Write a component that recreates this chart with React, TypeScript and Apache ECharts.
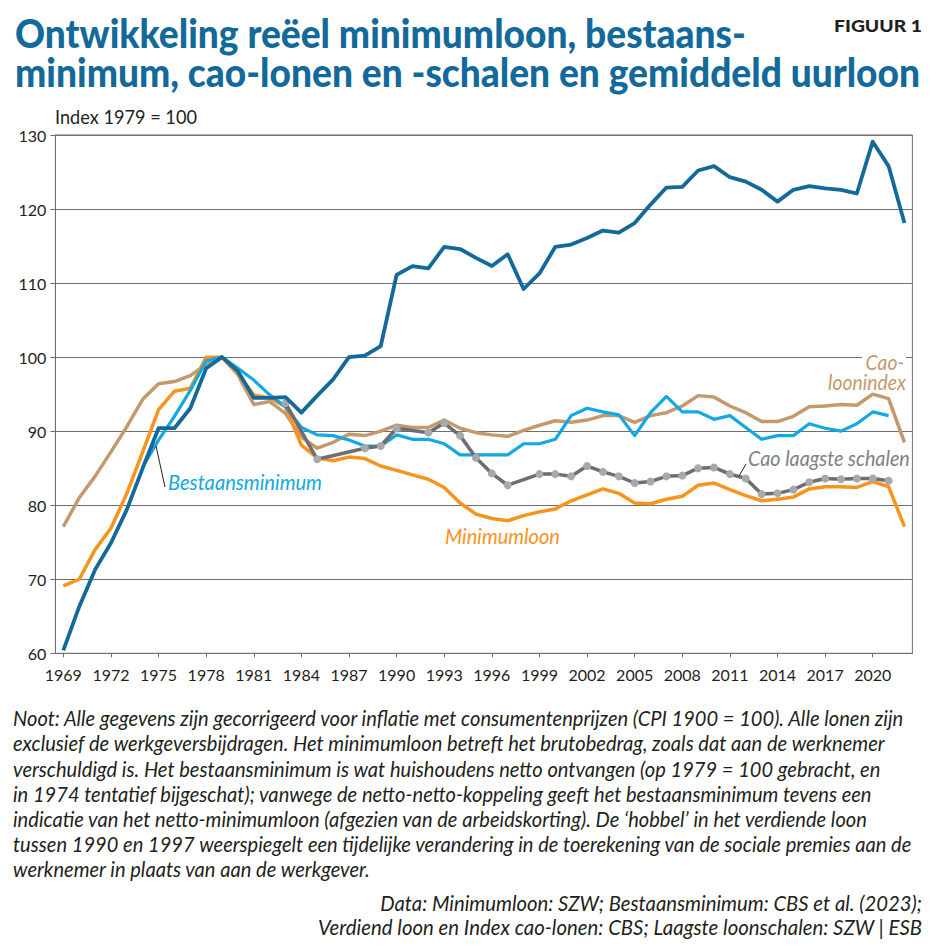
import React, { useEffect, useRef } from "react";
import * as echarts from "echarts";

// Categories: years 1969..2022
const years: string[] = Array.from({ length: 54 }, (_, i) => String(1969 + i));

// Gemiddeld uurloon (dark blue), 1969..2022
const uurloon: (number | null)[] = [
  60.4, 66.3, 71.3, 74.9, 79.4, 85.0, 90.4, 90.4, 93.1, 98.5,
  100.0, 98.1, 94.5, 94.5, 94.6, 92.5, 94.8, 97.0, 100.0, 100.2,
  101.5, 111.1, 112.3, 112.0, 114.9, 114.6, 113.4, 112.3, 113.9, 109.2,
  111.3, 114.9, 115.2, 116.1, 117.1, 116.8, 118.1, 120.6, 122.9, 123.0,
  125.2, 125.8, 124.3, 123.7, 122.6, 121.0, 122.6, 123.1, 122.8, 122.6,
  122.1, 129.1, 125.8, 118.1,
];

// Cao-loonindex (tan)
const caoLoonindex: (number | null)[] = [
  77.1, 81.0, 83.9, 87.2, 90.6, 94.3, 96.4, 96.7, 97.5, 99.0,
  100.0, 97.6, 93.6, 94.0, 92.4, 89.2, 87.7, 88.5, 89.6, 89.4,
  90.0, 90.8, 90.5, 90.5, 91.5, 90.4, 89.8, 89.5, 89.3, 90.1,
  90.8, 91.4, 91.2, 91.5, 92.1, 92.1, 91.2, 92.1, 92.5, 93.4,
  94.8, 94.6, 93.4, 92.5, 91.3, 91.3, 92.0, 93.3, 93.4, 93.6,
  93.5, 95.0, 94.4, 88.5,
];

// Minimumloon (orange)
const minimumloon: (number | null)[] = [
  69.1, 70.0, 74.0, 76.9, 81.6, 87.2, 92.9, 95.4, 95.8, 100.0,
  100.0, 97.8, 94.9, 94.5, 93.3, 88.1, 86.4, 86.0, 86.5, 86.3,
  85.3, 84.7, 84.1, 83.5, 82.4, 80.3, 78.8, 78.2, 77.9, 78.6,
  79.1, 79.5, 80.6, 81.4, 82.2, 81.6, 80.3, 80.2, 80.8, 81.2,
  82.7, 83.0, 82.1, 81.3, 80.6, 80.8, 81.1, 82.2, 82.5, 82.5,
  82.4, 83.2, 82.5, 77.1,
];

// Bestaansminimum (light blue)
const bestaansminimum: (number | null)[] = [
  null, null, null, null, null, 85.2, 88.8, 92.0, 95.5, 99.5,
  100.0, 98.5, 96.9, 94.9, 93.3, 90.5, 89.5, 89.4, 88.8, 88.0,
  88.0, 89.5, 88.9, 88.9, 88.3, 86.8, 86.8, 86.8, 86.8, 88.3,
  88.3, 88.9, 92.1, 93.1, 92.6, 92.2, 89.4, 92.5, 94.7, 92.6,
  92.6, 91.6, 92.1, 90.5, 88.9, 89.4, 89.4, 91.0, 90.4, 90.0,
  91.0, 92.6, 92.1, null,
];

// Cao laagste schalen (grey with markers)
const caoLaagste: (number | null)[] = [
  null, null, null, null, null, null, null, null, null, null,
  null, null, null, null, 93.8, null, 86.2, null, null, 87.7,
  88.0, 90.4, null, 89.8, 91.1, 89.4, 86.4, 84.3, 82.7, null,
  84.2, 84.2, 83.9, 85.3, 84.5, 83.9, 83.0, 83.2, 83.9, 84.0,
  85.0, 85.1, 84.2, 83.6, 81.5, 81.6, 82.1, 83.1, 83.6, 83.5,
  83.6, 83.6, 83.3, null,
];

const titleLines = [
  "Ontwikkeling reëel minimumloon, bestaans-",
  "minimum, cao-lonen en -schalen en gemiddeld uurloon",
];

const noteLines = [
  "Noot: Alle gegevens zijn gecorrigeerd voor inflatie met consumentenprijzen (CPI 1900 = 100). Alle lonen zijn",
  "exclusief de werkgeversbijdragen. Het minimumloon betreft het brutobedrag, zoals dat aan de werknemer",
  "verschuldigd is. Het bestaansminimum is wat huishoudens netto ontvangen (op 1979 = 100 gebracht, en",
  "in 1974 tentatief bijgeschat); vanwege de netto-netto-koppeling geeft het bestaansminimum tevens een",
  "indicatie van het netto-minimumloon (afgezien van de arbeidskorting). De ‘hobbel’ in het verdiende loon",
  "tussen 1990 en 1997 weerspiegelt een tijdelijke verandering in de toerekening van de sociale premies aan de",
  "werknemer in plaats van aan de werkgever.",
];

const sourceLines = [
  "Data: Minimumloon: SZW; Bestaansminimum: CBS et al. (2023);",
  "Verdiend loon en Index cao-lonen: CBS; Laagste loonschalen: SZW | ESB",
];
const sourceWidths = [542, 605];

const C_DARK = "#136a9a";
const C_LIGHT = "#12a8e2";
const C_ORANGE = "#f7941d";
const C_TAN = "#c49a6c";
const C_GREY = "#6d6e71";
const C_GREY_DOT = "#a7a9ac";
const C_TEXT = "#231f20";
const C_GRID = "#6f6f6f";

let ctx: CanvasRenderingContext2D | null = null;
function fit(text: string, font: string, target: number): number {
  if (!ctx) ctx = document.createElement("canvas").getContext("2d");
  if (!ctx) return 1;
  ctx.font = font;
  const w = ctx.measureText(text).width;
  return w > 0 ? target / w : 1;
}

function txt(text: string, x: number, y: number, font: string, fill: string, scaleX: number, align = "left", extra: any = {}) {
  return {
    type: "text",
    x,
    y,
    scaleX,
    silent: true,
    z: 100,
    style: {
      text,
      font,
      fill,
      align,
      textAlign: align,
      verticalAlign: "middle",
      textVerticalAlign: "middle",
      ...extra,
    },
  };
}

export default function App() {
  const ref = useRef<HTMLDivElement>(null);

  useEffect(() => {
    document.body.style.margin = "0";
    if (!ref.current) return;
    const chart = echarts.init(ref.current, undefined, { renderer: "svg" });

    const titleFont = "900 40px Lato";
    const titleScale = fit(titleLines[1], titleFont, 905);
    const noteFont = "italic 400 21px Lato";
    const noteScale = fit(noteLines[0], noteFont, 892);
    const labFont = "italic 400 22px Lato";
    const figFont = "900 17px Lato";
    const idxFont = "400 19px Lato";

    const graphics: any[] = [];
    graphics.push(txt(titleLines[0], 15, 32, titleFont, C_DARK, titleScale));
    graphics.push(txt(titleLines[1], 15, 71.5, titleFont, C_DARK, titleScale));
    graphics.push(
      txt("FIGUUR 1", 922, 25.5, figFont, C_TEXT, fit("FIGUUR 1", figFont, 88), "right", {})
    );
    graphics.push(txt("Index 1979 = 100", 55, 117, idxFont, C_TEXT, fit("Index 1979 = 100", idxFont, 142)));

    noteLines.forEach((l, i) => {
      graphics.push(txt(l, 13, 718 + i * 25.2, noteFont, C_TEXT, noteScale));
    });
    sourceLines.forEach((l, i) => {
      graphics.push(txt(l, 922, 903 + i * 24, noteFont, C_TEXT, fit(l, noteFont, sourceWidths[i]), "right"));
    });

    // series labels
    graphics.push(txt("Bestaansminimum", 168, 481, labFont, C_LIGHT, fit("Bestaansminimum", labFont, 154)));
    graphics.push(txt("Minimumloon", 445, 535, labFont, C_ORANGE, fit("Minimumloon", labFont, 115)));
    const looScale = fit("loonindex", labFont, 78);
    graphics.push(
      txt("Cao-", 906, 362, labFont, C_TAN, looScale, "right", {
        backgroundColor: "#ffffff",
        padding: [0, 2, 0, 4],
      })
    );
    graphics.push(txt("loonindex", 906, 381.5, labFont, C_TAN, looScale, "right"));
    graphics.push(
      txt("Cao laagste schalen", 748, 457, labFont, "#808285", fit("Cao laagste schalen", labFont, 162))
    );

    // leader lines
    graphics.push({
      type: "line",
      silent: true,
      z: 100,
      shape: { x1: 165, y1: 487, x2: 156, y2: 446 },
      style: { stroke: "#231f20", lineWidth: 1 },
    });
    graphics.push({
      type: "line",
      silent: true,
      z: 100,
      shape: { x1: 746, y1: 464, x2: 739, y2: 476 },
      style: { stroke: "#231f20", lineWidth: 1 },
    });

    const lineSeries = (name: string, data: (number | null)[], color: string, width = 3.5) => ({
      name,
      type: "line",
      data,
      symbol: "none",
      connectNulls: false,
      lineStyle: { color, width, join: "round" },
      itemStyle: { color },
      z: 2,
    });

    const option: any = {
      animation: false,
      grid: {
        left: 55.4,
        right: 24.6,
        top: 135,
        bottom: 296.7,
        show: true,
        borderColor: C_GRID,
        borderWidth: 1,
        backgroundColor: "transparent",
      },
      xAxis: {
        type: "category",
        data: years,
        boundaryGap: true,
        axisLine: { show: true, lineStyle: { color: C_GRID, width: 1 } },
        axisTick: { show: true, interval: 2, alignWithLabel: true, length: 4, lineStyle: { color: C_GRID } },
        axisLabel: { interval: 2, margin: 13, fontSize: 16, fontFamily: "Lato", color: C_TEXT },
        splitLine: { show: false },
      },
      yAxis: {
        type: "value",
        min: 60,
        max: 130,
        interval: 10,
        axisLine: { show: true, lineStyle: { color: C_GRID, width: 1 } },
        axisTick: { show: true, length: 5, lineStyle: { color: C_GRID } },
        axisLabel: { margin: 9, fontSize: 16, fontFamily: "Lato", color: C_TEXT },
        splitLine: { show: true, lineStyle: { color: C_GRID, width: 1 } },
      },
      series: [
        lineSeries("Cao-loonindex", caoLoonindex, C_TAN),
        lineSeries("Minimumloon", minimumloon, C_ORANGE),
        lineSeries("Bestaansminimum", bestaansminimum, C_LIGHT, 3.2),
        {
          name: "Cao laagste schalen",
          type: "line",
          data: caoLaagste,
          connectNulls: true,
          symbol: "circle",
          symbolSize: 8,
          showSymbol: true,
          showAllSymbol: true,
          lineStyle: { color: C_GREY, width: 3.5, join: "round" },
          itemStyle: { color: C_GREY_DOT, borderWidth: 0 },
          z: 3,
        },
        { ...lineSeries("Gemiddeld uurloon", uurloon, C_DARK, 3.8), z: 4 },
      ],
      graphic: graphics,
    };

    chart.setOption(option);
    return () => chart.dispose();
  }, []);

  return <div ref={ref} style={{ width: 937, height: 950 }} />;
}
